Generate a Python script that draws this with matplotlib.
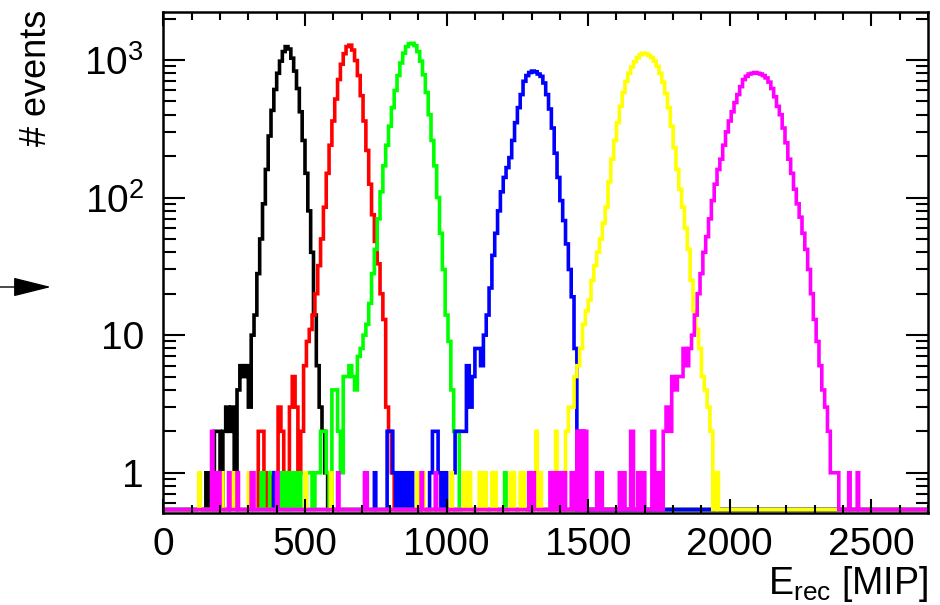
import numpy as np
import matplotlib
matplotlib.use('Agg')
import matplotlib.pyplot as plt
from matplotlib.ticker import FixedLocator, FuncFormatter, LogLocator, MultipleLocator, NullFormatter

plt.rcParams['font.family'] = ['Liberation Sans', 'DejaVu Sans']

# histogram binning (MIP)
bin_w = 5
x_max = 2700

# main peak of each histogram: first bin edge and counts in 10 MIP steps
black_x0 = 150
black_n = [1, 0, 0, 2, 2, 0, 2, 3, 2, 3, 1, 4, 6, 5, 6, 3, 10, 14, 28, 50,
           90, 160, 280, 430, 610, 800, 980, 1150, 1250, 1200, 1030, 830, 620, 420, 260, 150,
           80, 40, 14, 6, 3, 2, 1]

red_x0 = 325
red_n = [0, 2, 2, 1, 0, 1, 0, 1, 3, 2, 1, 0, 3, 5, 3, 1, 2, 6, 9, 11, 14, 20, 32, 50,
         85, 150, 240, 360, 520, 720, 930, 1110, 1250, 1280, 1180, 990, 770, 550, 360, 220,
         125, 75, 48, 33, 20, 13, 3, 2, 1]

green_x0 = 345
green_n = [1, 0, 0, 1, 1, 0, 0, 1, 0, 1, 0, 1, 0, 1, 0, 0, 1, 1, 0, 1, 1, 2, 2, 1, 0,
           4, 4, 2, 1, 5, 5, 6, 5, 4, 7, 8, 10, 12, 17, 28, 42, 70, 110, 170, 240, 330,
           450, 600, 770, 950, 1120, 1250, 1310, 1320, 1270, 1150, 980, 780, 580, 400, 260,
           170, 100, 55, 30, 14, 9, 4, 2, 2]

blue_x0 = 790
blue_n = [2, 2, 1, 0, 1, 0, 1, 0, 1, 0, 0, 0, 0, 0, 0, 1, 2, 2, 1, 0, 1, 0, 0,
          1, 2, 2, 2, 2, 6, 3, 5, 8, 8, 6, 10, 14, 22, 38, 55, 80, 110, 140, 165, 195,
          260, 350, 450, 560, 700, 770, 810, 830, 820, 790, 760, 680, 560, 440, 320, 210,
          140, 95, 68, 46, 30, 19, 8, 0, 2, 1]

yellow_x0 = 1410
yellow_n = [1, 2, 3, 3, 5, 6, 8, 12, 15, 18, 25, 32, 40, 50, 65, 85, 130, 190, 260, 350,
            460, 580, 700, 800, 890, 970, 1040, 1090, 1120, 1110, 1080, 1040, 980, 900, 800,
            690, 570, 450, 330, 230, 160, 115, 85, 60, 42, 25, 15, 11, 8, 5, 4, 3, 2, 0, 1]

magenta_x0 = 1765
magenta_n = [2, 3, 2, 5, 4, 5, 5, 8, 6, 8, 10, 14, 20, 28, 40, 52, 70, 95, 125, 160, 190,
             240, 300, 360, 420, 490, 560, 640, 720, 760, 790, 800, 810, 800, 790, 770, 740,
             690, 620, 540, 460, 400, 320, 250, 190, 150, 115, 90, 72, 55, 42, 30, 20, 13,
             9, 6, 4, 3, 2, 1, 1, 1]

# isolated 5 MIP bins away from the peaks, with one or two entries
green_ones = [1205]
blue_ones = [390, 745]
yellow_ones = [125, 205, 245, 300, 500, 590, 895, 915, 1015, 1060, 1070, 1080, 1115, 1125,
               1135, 1160, 1170, 1225, 1235, 1260, 1270, 1325, 1330, 1395, 1405]
yellow_twos = [1315, 1385]
magenta_ones = [185, 195, 230, 260, 310, 315, 400, 615, 710, 715, 910, 960, 1290, 1300,
                1305, 1365, 1375, 1385, 1395, 1405, 1415, 1440, 1445, 1530, 1540, 1545,
                1610, 1620, 1625, 1675, 1685, 1695, 1745, 1755, 2420, 2450]
magenta_twos = [170, 1460, 1470, 1480, 1490, 1650, 1655, 1725, 1730]

series = [
    ('black', black_x0, black_n, [], []),
    ('#ff0000', red_x0, red_n, [], []),
    ('#00ff00', green_x0, green_n, green_ones, []),
    ('#0000ff', blue_x0, blue_n, blue_ones, []),
    ('#ffff00', yellow_x0, yellow_n, yellow_ones, yellow_twos),
    ('#ff00ff', magenta_x0, magenta_n, magenta_ones, magenta_twos),
]

edges = np.arange(0, x_max + bin_w, bin_w)
y_min, y_max = 0.51, 2230
floor = 0.54  # empty bins drawn on the bottom of the frame


def build(x0, n10, ones, twos):
    h = np.zeros(len(edges) - 1)
    i = x0 // bin_w
    h[i:i + 2 * len(n10)] = np.repeat(n10, 2)
    for x in ones:
        h[x // bin_w] = max(h[x // bin_w], 1)
    for x in twos:
        h[x // bin_w] = max(h[x // bin_w], 2)
    return h


fig = plt.figure(figsize=(9.4, 6.05), dpi=100)
ax = fig.add_axes([163.4 / 940, 1 - 513 / 605, (928 - 163.4) / 940, (513 - 12) / 605])

for color, x0, n10, ones, twos in series:
    h = build(x0, n10, ones, twos)
    ax.stairs(np.where(h > 0, h, floor), edges, color=color, lw=2.6, baseline=None)

ax.set_xlim(0, x_max)
ax.set_yscale('log')
ax.set_ylim(y_min, y_max)

ax.xaxis.set_major_locator(MultipleLocator(500))
ax.xaxis.set_minor_locator(MultipleLocator(100))
ax.yaxis.set_major_locator(FixedLocator([1, 10, 100, 1000]))
ax.yaxis.set_minor_locator(LogLocator(base=10, subs=np.arange(2, 10)))
ax.yaxis.set_minor_formatter(NullFormatter())
y_labels = {1: '1', 10: '10', 100: r'$\mathregular{10^{2}}$', 1000: r'$\mathregular{10^{3}}$'}
ax.yaxis.set_major_formatter(FuncFormatter(lambda v, p: y_labels.get(int(round(v)), '')))

ax.tick_params(which='both', direction='in', top=True, right=True, width=1.5, labelsize=28)
ax.tick_params(axis='x', which='major', length=10, pad=10)
ax.tick_params(axis='x', which='minor', length=5.5)
ax.tick_params(axis='y', which='major', length=16, pad=14)
ax.tick_params(axis='y', which='minor', length=9)
for s in ax.spines.values():
    s.set_linewidth(1.8)

fig.text(37 / 940, 1 - 10 / 605, '# events', rotation=90, ha='center', va='top', fontsize=26)
fig.text(928 / 940, 1 - 594 / 605, r'$\mathregular{E_{rec}}$ [MIP]', ha='right', va='baseline',
         fontsize=27)

ax.annotate('', xy=(51, 605 - 287), xytext=(0, 605 - 287), xycoords='figure pixels',
            textcoords='figure pixels',
            arrowprops=dict(arrowstyle='-|>,head_length=0.6,head_width=0.15', mutation_scale=40,
                            lw=1, color='black', shrinkA=0, shrinkB=0),
            annotation_clip=False)

fig.savefig('out.png', dpi=100)
